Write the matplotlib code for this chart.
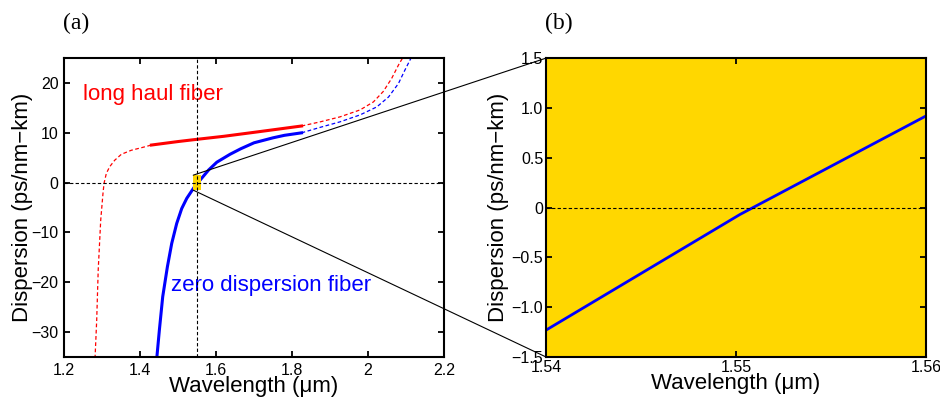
import matplotlib
matplotlib.use('Agg')

import matplotlib.pyplot as plt
from matplotlib.patches import Rectangle, ConnectionPatch
from matplotlib.ticker import FixedLocator, FuncFormatter

plt.rcParams.update({
    'font.family': 'Liberation Sans', 'font.size': 11.5,
    'axes.linewidth': 1.5,
    'xtick.direction': 'in', 'ytick.direction': 'in',
    'xtick.top': True, 'ytick.right': True,
    'xtick.major.size': 4, 'ytick.major.size': 4,
    'xtick.major.width': 1.3, 'ytick.major.width': 1.3,
    'axes.unicode_minus': True,
})

RED = "#ff0000"
BLUE = "#0000ff"
GOLD = "#ffd700"

# (a) long haul fiber: dashed lower branch, solid band, dashed upper branch
red_lo_wl = [1.2816, 1.286, 1.290, 1.2966, 1.3026, 1.3053, 1.3114, 1.3202, 1.3334, 1.351, 1.377, 1.403, 1.43]
red_lo_d = [-35.3, -27.6, -17.5, -7.5, -2.1, -0.15, 1.87, 3.2, 4.5, 5.7, 6.5, 7.0, 7.55]
red_mid_wl = [1.43, 1.50, 1.55, 1.62, 1.71, 1.825]
red_mid_d = [7.55, 8.25, 8.7, 9.3, 10.2, 11.37]
red_hi_wl = [1.825, 1.874, 1.926, 1.979, 2.014, 2.040, 2.062, 2.080, 2.093]
red_hi_d = [11.37, 12.2, 13.2, 14.6, 16.2, 18.3, 20.9, 23.6, 25.3]

# (a) zero dispersion fiber
blue_mid_wl = [1.444, 1.4509, 1.4597, 1.472, 1.4834, 1.4965, 1.5097, 1.523, 1.540, 1.5508,
               1.558, 1.580, 1.602, 1.637, 1.665, 1.70, 1.75, 1.78, 1.825]
blue_mid_d = [-35.3, -29.6, -22.9, -16.9, -12.2, -8.2, -5.2, -3.15, -1.2, 0.0,
              0.5, 2.5, 4.1, 5.7, 6.8, 8.0, 9.0, 9.5, 10.0]
blue_hi_wl = [1.825, 1.874, 1.926, 1.979, 2.023, 2.054, 2.080, 2.097, 2.115]
blue_hi_d = [10.0, 11.1, 12.2, 13.6, 15.2, 17.2, 19.9, 22.6, 25.3]

# (b) zoom on the zero dispersion fiber
zoom_wl = [1.54, 1.5502, 1.56]
zoom_d = [-1.23, -0.07, 0.92]

lam0 = 1.55
zx = (1.54, 1.56)
zy = (-1.5, 1.5)

fig = plt.figure(figsize=(9.4, 3.98), dpi=100)
ax1 = fig.add_axes([0.0681, 0.103, 0.4043, 0.751])
ax2 = fig.add_axes([0.5809, 0.103, 0.4043, 0.751])

ax1.plot(red_lo_wl, red_lo_d, color=RED, lw=0.9, ls=(0, (3, 2)))
ax1.plot(red_mid_wl, red_mid_d, color=RED, lw=2.2, solid_joinstyle='round')
ax1.plot(red_hi_wl, red_hi_d, color=RED, lw=0.9, ls=(0, (3, 2)))
ax1.plot(blue_mid_wl, blue_mid_d, color=BLUE, lw=2.2, solid_joinstyle='round')
ax1.plot(blue_hi_wl, blue_hi_d, color=BLUE, lw=0.9, ls=(0, (3, 2)))
ax1.axhline(0, color='k', lw=0.8, ls=(0, (3, 2)), zorder=4)
ax1.axvline(lam0, color='k', lw=0.8, ls=(0, (3, 2)), zorder=4)
ax1.add_patch(Rectangle((zx[0], zy[0]), zx[1] - zx[0], zy[1] - zy[0],
                        facecolor=GOLD, edgecolor='none', zorder=3))
ax1.text(1.25, 17.6, "long haul fiber", color=RED, fontsize=16, va='center')
ax1.text(1.481, -20.6, "zero dispersion fiber", color=BLUE, fontsize=16, va='center')
ax1.set_xlim(1.2, 2.2)
ax1.set_ylim(-35, 25)
ax1.set_xticks([1.2, 1.4, 1.6, 1.8, 2.0, 2.2])
ax1.set_xticklabels(["1.2", "1.4", "1.6", "1.8", "2", "2.2"])
ax1.set_yticks([-30, -20, -10, 0, 10, 20])
ax1.set_xlabel("Wavelength (\u03bcm)", fontsize=16, labelpad=-1)
ax1.set_ylabel("Dispersion (ps/nm\u2212km)", fontsize=16, labelpad=-1)
ax1.tick_params(pad=4)

ax2.set_facecolor(GOLD)
ax2.plot(zoom_wl, zoom_d, color=BLUE, lw=2.0)
ax2.axhline(0, color='k', lw=0.8, ls=(0, (3, 2)))
ax2.set_xlim(*zx)
ax2.set_ylim(*zy)
ax2.xaxis.set_major_locator(FixedLocator([1.54, 1.55, 1.56]))
ax2.yaxis.set_major_locator(FixedLocator([-1.5, -1.0, -0.5, 0, 0.5, 1.0, 1.5]))
ax2.yaxis.set_major_formatter(FuncFormatter(lambda v, p: "0" if v == 0 else f"{v:.1f}".replace("-", "\u2212")))
ax2.xaxis.set_major_formatter(FuncFormatter(lambda v, p: f"{v:.2f}"))
ax2.set_xlabel("Wavelength (\u03bcm)", fontsize=16, labelpad=-1)
ax2.set_ylabel("Dispersion (ps/nm\u2212km)", fontsize=16, labelpad=2)
ax2.tick_params(pad=2)

for yv in zy[::-1]:
    con = ConnectionPatch(xyA=(zx[0], yv), coordsA=ax1.transData,
                          xyB=(zx[0], yv), coordsB=ax2.transData,
                          color='k', lw=0.8, zorder=10)
    fig.add_artist(con)

fig.text(0.081, 0.942, "(a)", fontsize=17, family='Liberation Serif', ha='center', va='center')
fig.text(0.594, 0.942, "(b)", fontsize=17, family='Liberation Serif', ha='center', va='center')

fig.savefig("out.png", dpi=100)
